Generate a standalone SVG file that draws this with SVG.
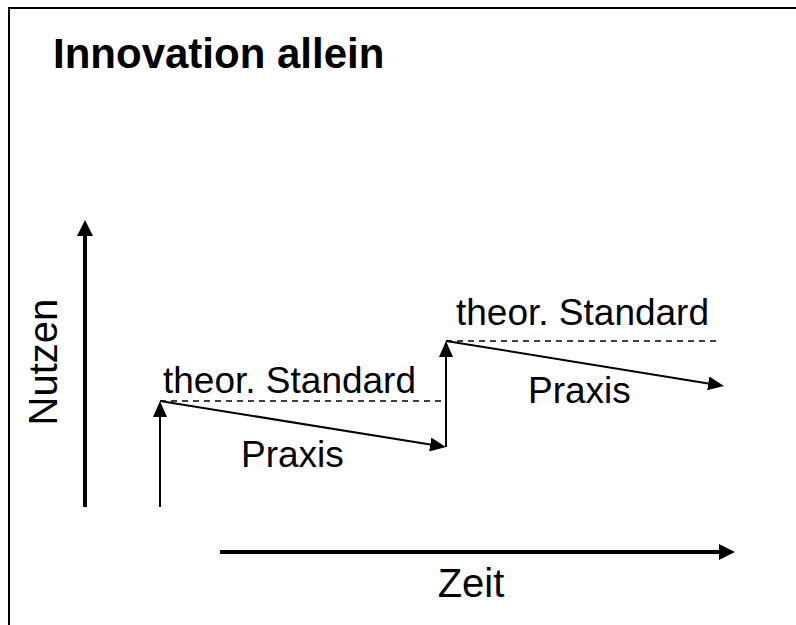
<svg xmlns="http://www.w3.org/2000/svg" width="796" height="625" viewBox="0 0 796 625">
<style>
text{font-family:"Liberation Sans",Arial,sans-serif;fill:#000}
.lbl{font-size:37px}
.thin{stroke:#000;stroke-width:2;fill:none}
.thick{stroke:#000;stroke-width:4;fill:none}
.dash{stroke:#000;stroke-width:1.5;stroke-dasharray:6,5;fill:none}
</style>
<defs>
<marker id="ah" markerUnits="userSpaceOnUse" markerWidth="16" markerHeight="14" refX="0" refY="7" orient="auto"><path d="M0,0 L16,7 L0,14 z" fill="#000"/></marker>
<marker id="ahb" markerUnits="userSpaceOnUse" markerWidth="16" markerHeight="16" refX="0" refY="8" orient="auto"><path d="M0,0 L16,8 L0,16 z" fill="#000"/></marker>
</defs>
<rect width="796" height="625" fill="#fff"/>
<g id="frame"><path d="M9,625 V8 H796" stroke="#000" stroke-width="2" fill="none"/></g>
<g id="title"><text x="53" y="68" style="font-size:42px;font-weight:bold">Innovation allein</text></g>
<g id="connectors">
<line class="thick" x1="85" y1="507" x2="85" y2="236" marker-end="url(#ahb)"/>
<line class="thick" x1="220" y1="552" x2="719" y2="552" marker-end="url(#ahb)"/>
<line class="thin" x1="160" y1="507" x2="160" y2="417" marker-end="url(#ah)"/>
<line class="dash" x1="160" y1="401" x2="446" y2="401"/>
<line class="thin" x1="160" y1="401" x2="430.2" y2="444.5" marker-end="url(#ah)"/>
<line class="thin" x1="446" y1="447" x2="446" y2="357" marker-end="url(#ah)"/>
<line class="dash" x1="446" y1="341" x2="720" y2="341"/>
<line class="thin" x1="446" y1="341" x2="708.2" y2="383.4" marker-end="url(#ah)"/>
</g>
<g id="axis-y-label"><text transform="translate(57,362) rotate(-90)" text-anchor="middle" style="font-size:40px">Nutzen</text></g>
<g id="axis-x-label"><text x="471" y="597" text-anchor="middle" style="font-size:40px">Zeit</text></g>
<g id="std1"><text class="lbl" x="163" y="393">theor. Standard</text></g>
<g id="praxis1"><text class="lbl" x="241" y="467">Praxis</text></g>
<g id="std2"><text class="lbl" x="456" y="325">theor. Standard</text></g>
<g id="praxis2"><text class="lbl" x="528" y="403">Praxis</text></g>
</svg>
